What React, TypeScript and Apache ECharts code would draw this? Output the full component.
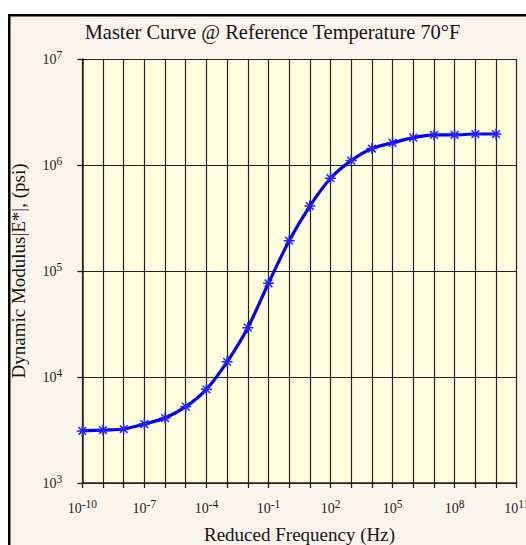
import React, { useEffect, useRef } from "react";
import * as echarts from "echarts";

// Reduced frequency (Hz) and dynamic modulus |E*| (psi)
const frequencies: number[] = [
  1e-10, 1e-9, 1e-8, 1e-7, 1e-6, 1e-5, 1e-4, 1e-3, 1e-2, 1e-1, 1e0,
  1e1, 1e2, 1e3, 1e4, 1e5, 1e6, 1e7, 1e8, 1e9, 1e10,
];
const modulus: number[] = [
  3100, 3160, 3230, 3600, 4100, 5250, 7650, 13900, 29200, 76600, 193000,
  410000, 750000, 1100000, 1430000, 1620000, 1810000, 1920000, 1920000, 1960000, 1960000,
];
const xLabelExponents: number[] = [-10, -7, -4, -1, 2, 5, 8, 11];
const yLabelExponents: number[] = [3, 4, 5, 6, 7];

const titleText = "Master Curve @ Reference Temperature 70°F";
const xName = "Reduced Frequency (Hz)";
const yName = "Dynamic Modulus|E*|, (psi)";

const SERIF = "'Liberation Serif', 'Times New Roman', serif";

const richLabel = {
  b: { fontSize: 14, lineHeight: 20, fontFamily: SERIF, color: "#1c1c1c", verticalAlign: "middle" },
  s: { fontSize: 11.5, lineHeight: 10, fontFamily: SERIF, color: "#1c1c1c", verticalAlign: "top" },
};

const expOf = (v: number) => Math.round(Math.log10(v));

export default function App() {
  const ref = useRef<HTMLDivElement>(null);
  useEffect(() => {
    if (!ref.current) return;
    const chart = echarts.init(ref.current, undefined, { renderer: "svg" });
    const data = frequencies.map((f, i) => [f, modulus[i]]);
    chart.setOption({
      animation: false,
      backgroundColor: "#ffffff",
      graphic: [
        {
          type: "rect",
          z: -10,
          shape: { x: 9.25, y: 15.25, width: 540, height: 560 },
          style: { fill: "#f9f4ec", stroke: "#000000", lineWidth: 2.5 },
        },
        {
          type: "text",
          x: 272.5,
          y: 32,
          style: {
            text: titleText,
            font: `20.4px ${SERIF}`,
            fill: "#151515",
            textAlign: "center",
            textVerticalAlign: "middle",
          },
        },
      ],
      grid: {
        left: 82.3,
        top: 59,
        width: 434.4,
        height: 424,
        show: true,
        backgroundColor: "#ffffe0",
        borderWidth: 0,
        containLabel: false,
        outerBoundsMode: "none",
      },
      xAxis: {
        type: "log",
        logBase: 10,
        min: 1e-10,
        max: 1e11,
        interval: 1,
        name: xName,
        nameLocation: "middle",
        nameGap: 42,
        nameTextStyle: { fontFamily: SERIF, fontSize: 19, color: "#151515" },
        axisLine: { show: true, lineStyle: { color: "#222", width: 1.5 } },
        axisTick: { show: true, inside: false, length: 5, lineStyle: { color: "#222", width: 1.3 } },
        splitLine: { show: true, lineStyle: { color: "#222", width: 1.2 } },
        axisLabel: {
          margin: 15,
          showMinLabel: true,
          showMaxLabel: true,
          hideOverlap: false,
          formatter: (v: number) => {
            const e = expOf(v);
            return xLabelExponents.includes(e) ? `{b|10}{s|${e}}` : "";
          },
          rich: richLabel,
        },
      },
      yAxis: {
        type: "log",
        logBase: 10,
        min: 1e3,
        max: 1e7,
        interval: 1,
        name: yName,
        nameLocation: "middle",
        nameGap: 54,
        nameRotate: 90,
        nameTextStyle: { fontFamily: SERIF, fontSize: 19, color: "#151515" },
        axisLine: { show: true, lineStyle: { color: "#222", width: 1.5 } },
        axisTick: { show: true, inside: false, length: 5, lineStyle: { color: "#222", width: 1.3 } },
        splitLine: { show: true, lineStyle: { color: "#222", width: 1.2 } },
        axisLabel: {
          margin: 20,
          showMinLabel: true,
          showMaxLabel: true,
          formatter: (v: number) => {
            const e = expOf(v);
            return yLabelExponents.includes(e) ? `{b|10}{s|${e}}` : "";
          },
          rich: richLabel,
        },
      },
      series: [
        {
          type: "line",
          data,
          smooth: 0.3,
          symbol: "path://M5 0 L5 10 M0 5 L10 5 M1.5 1.5 L8.5 8.5 M8.5 1.5 L1.5 8.5",
          symbolSize: 11,
          showAllSymbol: true,
          lineStyle: { color: "#0000ff", width: 3.2 },
          itemStyle: { color: "rgba(0,0,0,0)", borderColor: "#2222ff", borderWidth: 1.5 },
          z: 5,
        },
      ],
    });
    return () => chart.dispose();
  }, []);
  return (
    <div
      ref={ref}
      style={{ position: "absolute", left: 0, top: 0, width: 526, height: 545 }}
    />
  );
}
